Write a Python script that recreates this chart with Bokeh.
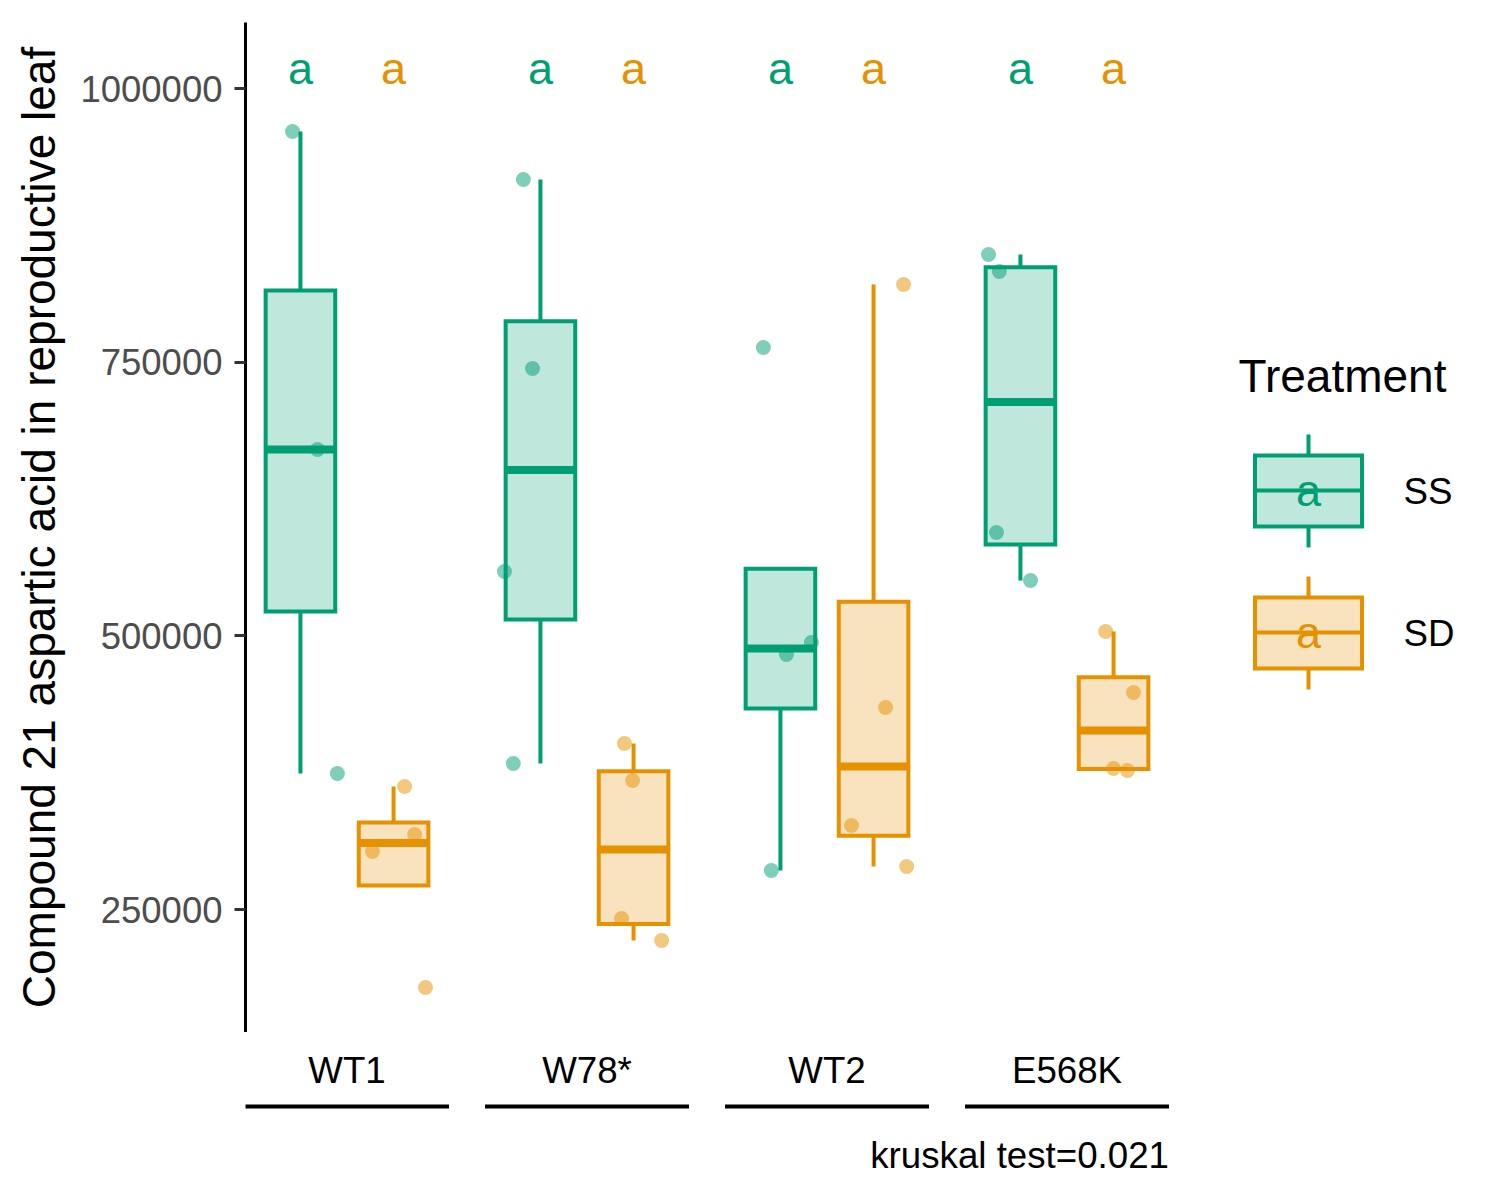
import numpy as np
from bokeh.plotting import figure
from bokeh.models import Range1d, FixedTicker, NumeralTickFormatter
from bokeh.layouts import column
from bokeh.core.properties import value
from bokeh.embed import file_html
from bokeh.resources import INLINE

# ---------------- data ----------------
genotypes = ["WT1", "W78*", "WT2", "E568K"]
treatments = ["SS", "SD"]

ss_values = [
    [960700, 670200, 374200],
    [916900, 744200, 558800, 383400],
    [763400, 493900, 482900, 285600],
    [848400, 832800, 594400, 550500],
]
sd_values = [
    [362400, 318500, 303000, 178700],
    [401600, 367800, 241800, 221700],
    [821000, 434500, 326700, 289300],
    [504000, 448200, 378800, 377000],
]
# horizontal jitter of each point (in category units), as seen in the picture
ss_jitter = [
    [-0.033, 0.071, 0.154],
    [-0.071, -0.033, -0.150, -0.113],
    [-0.071, 0.129, 0.025, -0.038],
    [-0.133, -0.088, -0.100, 0.042],
]
sd_jitter = [
    [0.046, 0.088, -0.088, 0.133],
    [-0.038, -0.004, -0.050, 0.117],
    [0.125, 0.050, -0.092, 0.138],
    [-0.033, 0.083, 0.000, 0.058],
]
ss_letters = ["a", "a", "a", "a"]
sd_letters = ["a", "a", "a", "a"]
y_ticks = [250000, 500000, 750000, 1000000]
y_title = "Compound 21 aspartic acid in reproductive leaf"
legend_title = "Treatment"
caption = "kruskal test=0.021"

# ---------------- styles / layout ----------------
FONT = value("Liberation Sans")
COLORS = {"SS": "#009E73", "SD": "#E69100"}
DODGE = 0.194
BOX_W = 0.29
BASE_FIX = 0.37          # svg text baseline correction (fraction of font size)

W = 1492
LEFT = 245
TOP = 22
PX_X = 1.0 / 240.0              # category units per pixel
PX_Y = 750000.0 / 821.0         # value units per pixel
x_start = 1 - 101.5 * PX_X
x_end = x_start + (W - LEFT) * PX_X
y_start = 1000000 - 944 * PX_Y
y_end = 1000000 + 66 * PX_Y


def sx(px):
    """screen px (reference) -> x data, for decorations."""
    return 1 + (px - 346.5) * PX_X


def sy(py, size=0.0):
    """screen px (reference) of a text baseline / line -> y data."""
    py = py - BASE_FIX * size
    return 1000000 - (py - 88) * PX_Y


def box_stats(vals):
    a = np.asarray(vals, dtype=float)
    q1, med, q3 = np.percentile(a, [25, 50, 75])
    iqr = q3 - q1
    lo = a[a >= q1 - 1.5 * iqr].min()
    hi = a[a <= q3 + 1.5 * iqr].max()
    return q1, med, q3, lo, hi


p = figure(width=W, height=1032,
           x_range=Range1d(x_start, x_end), y_range=Range1d(y_start, y_end),
           output_backend="svg", toolbar_location=None, tools="",
           x_axis_location=None,
           min_border_left=LEFT, min_border_right=0,
           min_border_top=TOP, min_border_bottom=0)
p.outline_line_color = None
p.xgrid.visible = False
p.ygrid.visible = False
p.background_fill_color = "white"
p.border_fill_color = "white"

ax = p.yaxis[0]
ax.ticker = FixedTicker(ticks=y_ticks)
ax.formatter = NumeralTickFormatter(format="0")
ax.axis_line_color = "black"
ax.axis_line_width = 3
ax.major_tick_line_color = "#333333"
ax.major_tick_line_width = 3
ax.major_tick_out = 11
ax.major_tick_in = 0
ax.minor_tick_out = 0
ax.minor_tick_in = 0
ax.minor_tick_line_color = None
ax.major_label_text_font = "Liberation Sans"
ax.major_label_text_font_size = "36.5px"
ax.major_label_text_color = "#4D4D4D"
ax.major_label_standoff = 12
ax.axis_label = y_title
ax.axis_label_text_font = "Liberation Sans"
ax.axis_label_text_font_size = "46px"
ax.axis_label_text_font_style = "normal"
ax.axis_label_text_color = "black"
ax.axis_label_standoff = 12

letter_y = sy(85, 45)

for t, vals_all, jit_all, letters, sign in [
        ("SS", ss_values, ss_jitter, ss_letters, -1),
        ("SD", sd_values, sd_jitter, sd_letters, +1)]:
    c = COLORS[t]
    xc, q1s, meds, q3s, los, his = [], [], [], [], [], []
    px_, py_ = [], []
    for gi, (vals, jit) in enumerate(zip(vals_all, jit_all)):
        x = gi + 1 + sign * DODGE
        q1, med, q3, lo, hi = box_stats(vals)
        xc.append(x)
        q1s.append(q1)
        meds.append(med)
        q3s.append(q3)
        los.append(min(lo, q1))
        his.append(max(hi, q3))
        for v, j in zip(vals, jit):
            px_.append(x + j)
            py_.append(v)
    xc = np.array(xc)
    # whiskers
    p.segment(x0=xc, y0=q3s, x1=xc, y1=his, line_color=c, line_width=4)
    p.segment(x0=xc, y0=q1s, x1=xc, y1=los, line_color=c, line_width=4)
    # boxes
    p.quad(left=xc - BOX_W / 2, right=xc + BOX_W / 2, bottom=q1s, top=q3s,
           fill_color=c, fill_alpha=0.25, line_color=c, line_width=4,
           line_join="miter")
    # medians
    p.segment(x0=xc - BOX_W / 2, y0=meds, x1=xc + BOX_W / 2, y1=meds,
              line_color=c, line_width=8)
    # jittered points
    p.scatter(x=px_, y=py_, size=15, fill_color=c, fill_alpha=0.5,
              line_color=None)
    # letters
    p.text(x=xc, y=[letter_y] * len(xc), text=letters, text_font=FONT,
           text_font_size="45px", text_align="center",
           text_baseline="alphabetic", text_color=c)

# ---------------- legend (drawn in data space) ----------------
p.text(x=[sx(1238)], y=[sy(393, 46)], text=[legend_title], text_font=FONT,
       text_font_size="46px", text_align="left", text_baseline="alphabetic",
       text_color="black")
kx = sx(1308)
khw = 53.5 * PX_X
for k, t in enumerate(treatments):
    c = COLORS[t]
    d = k * 142
    p.segment(x0=[kx, kx], y0=[sy(434 + d), sy(526 + d)],
              x1=[kx, kx], y1=[sy(455 + d), sy(547 + d)],
              line_color=c, line_width=4)
    p.quad(left=[kx - khw], right=[kx + khw], top=[sy(455 + d)],
           bottom=[sy(526 + d)], fill_color=c, fill_alpha=0.25,
           line_color=c, line_width=4, line_join="miter")
    p.segment(x0=[kx - khw], y0=[sy(490 + d)], x1=[kx + khw], y1=[sy(490 + d)],
              line_color=c, line_width=4)
    p.text(x=[kx], y=[sy(507 + d, 45)],
           text=[ss_letters[0] if t == "SS" else sd_letters[0]],
           text_font=FONT, text_font_size="45px", text_align="center",
           text_baseline="alphabetic", text_color=c)
    p.text(x=[sx(1403)], y=[sy(505 + d, 36.7)], text=[t], text_font=FONT,
           text_font_size="36.7px", text_align="left",
           text_baseline="alphabetic", text_color="black")

# ---------------- bottom strip: group labels, underlines, caption ----------------
p2 = figure(width=W, height=160, x_range=p.x_range, y_range=Range1d(160, 0),
            output_backend="svg", toolbar_location=None, tools="",
            x_axis_location=None, y_axis_location=None,
            min_border_left=LEFT, min_border_right=0,
            min_border_top=0, min_border_bottom=0)
p2.outline_line_color = None
p2.xgrid.visible = False
p2.ygrid.visible = False
p2.background_fill_color = "white"
p2.border_fill_color = "white"

gx = np.arange(1, len(genotypes) + 1, dtype=float)
half = 0.425
fix = BASE_FIX * 36.7
p2.text(x=gx, y=[52 - fix] * len(gx), text=genotypes, text_font=FONT,
        text_font_size="36.7px", text_align="center",
        text_baseline="alphabetic", text_color="black")
p2.segment(x0=gx - half, y0=[74] * len(gx), x1=gx + half, y1=[74] * len(gx),
           line_color="black", line_width=4)
p2.text(x=[gx[-1] + half], y=[137 - fix], text=[caption], text_font=FONT,
        text_font_size="36.7px", text_align="right",
        text_baseline="alphabetic", text_color="black")

layout = column(p, p2, spacing=0)
open("out.html", "w").write(file_html(layout, INLINE, title="plot"))
